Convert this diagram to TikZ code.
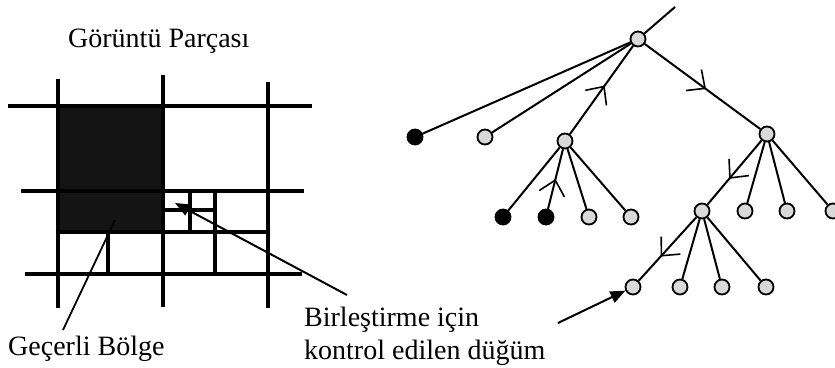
\documentclass[tikz,border=0pt]{standalone}
\usepackage{fontspec}
\setmainfont{Liberation Serif}
\usetikzlibrary{arrows.meta,decorations.markings}
\tikzset{
  gridline/.style={line width=3.2pt},
  thinline/.style={line width=1.8pt},
  tnode/.style={circle,draw,line width=1.8pt,fill=black!15,minimum size=15pt,inner sep=0pt},
  bnode/.style={circle,draw,line width=1.8pt,fill=black,minimum size=15pt,inner sep=0pt},
  edge/.style={line width=2pt},
  barb/.tip={Straight Barb[length=14pt,width=26pt,line width=1.6pt]},
  fwd/.style={postaction={decorate,decoration={markings,mark=at position #1 with {\arrow{barb}}}}},
  bwd/.style={postaction={decorate,decoration={markings,mark=at position #1 with {\arrowreversed{barb}}}}},
  lbl/.style={anchor=base west,inner sep=0pt,font=\fontsize{28}{30}\selectfont},
  pointer/.style={line width=2pt,-{Triangle[length=15pt,width=12pt]}}
}
\begin{document}
\begin{tikzpicture}[x=1pt,y=-1pt]
\useasboundingbox (0,0) rectangle (835,367);
% image grid
\fill[black!92] (58,106) rectangle (163,232);
\draw[gridline] (58,79) -- (58,308);
\draw[gridline] (163,75) -- (163,307);
\draw[gridline] (268,82) -- (268,308);
\draw[gridline] (8,106) -- (312,106);
\draw[gridline] (21,191) -- (304,191);
\draw[gridline] (25,274) -- (302,274);
\draw[gridline] (58,232) -- (268,232);
\draw[gridline] (108,232) -- (108,274);
\draw[gridline] (215,191) -- (215,274);
\draw[gridline] (190,191) -- (190,232);
\draw[gridline] (163,210) -- (215,210);
% labels
\node[lbl] (title) at (68,47) {Görüntü Parçası};
\node[lbl] (gecerli) at (8,355) {Geçerli Bölge};
\node[lbl] (birl) at (304,326) {Birleştirme için};
\node[lbl] (kontrol) at (304,359) {kontrol edilen düğüm};
\coordinate (gA) at (63,330);
\coordinate (gB) at (115,220);
\draw[thinline] (gA) -- (gB);
\coordinate (pA) at (347,295);
\coordinate (pB) at (175,203);
\draw[pointer] (pA) -- (pB);
% tree
\node[tnode] (r) at (638,39) {};
\coordinate (top) at (675,7);
\node[bnode] (a1) at (415,137) {};
\node[tnode] (a2) at (485,137) {};
\node[tnode] (a3) at (565,141) {};
\node[tnode] (a4) at (767,134) {};
\node[bnode] (b1) at (503,217) {};
\node[bnode] (b2) at (546,217) {};
\node[tnode] (b3) at (589,217) {};
\node[tnode] (b4) at (631,217) {};
\node[tnode] (c1) at (702,211) {};
\node[tnode] (c2) at (745,211) {};
\node[tnode] (c3) at (787,211) {};
\node[tnode] (c4) at (833,211) {};
\node[tnode] (d1) at (633,287) {};
\node[tnode] (d2) at (680,287) {};
\node[tnode] (d3) at (722,287) {};
\node[tnode] (d4) at (766,287) {};
\draw[edge] (r) -- (top);
\draw[edge] (r) -- (a1);
\draw[edge] (r) -- (a2);
\draw[edge,bwd=0.45] (r) -- (a3);
\draw[edge,fwd=0.53] (r) -- (a4);
\draw[edge] (a3) -- (b1);
\draw[edge,bwd=0.5] (a3) -- (b2);
\draw[edge] (a3) -- (b3);
\draw[edge] (a3) -- (b4);
\draw[edge,fwd=0.6] (a4) -- (c1);
\draw[edge] (a4) -- (c2);
\draw[edge] (a4) -- (c3);
\draw[edge] (a4) -- (c4);
\draw[edge,fwd=0.62] (c1) -- (d1);
\draw[edge] (c1) -- (d2);
\draw[edge] (c1) -- (d3);
\draw[edge] (c1) -- (d4);
\coordinate (qA) at (558,323);
\draw[pointer] (qA) -- (d1);
\end{tikzpicture}
\end{document}
